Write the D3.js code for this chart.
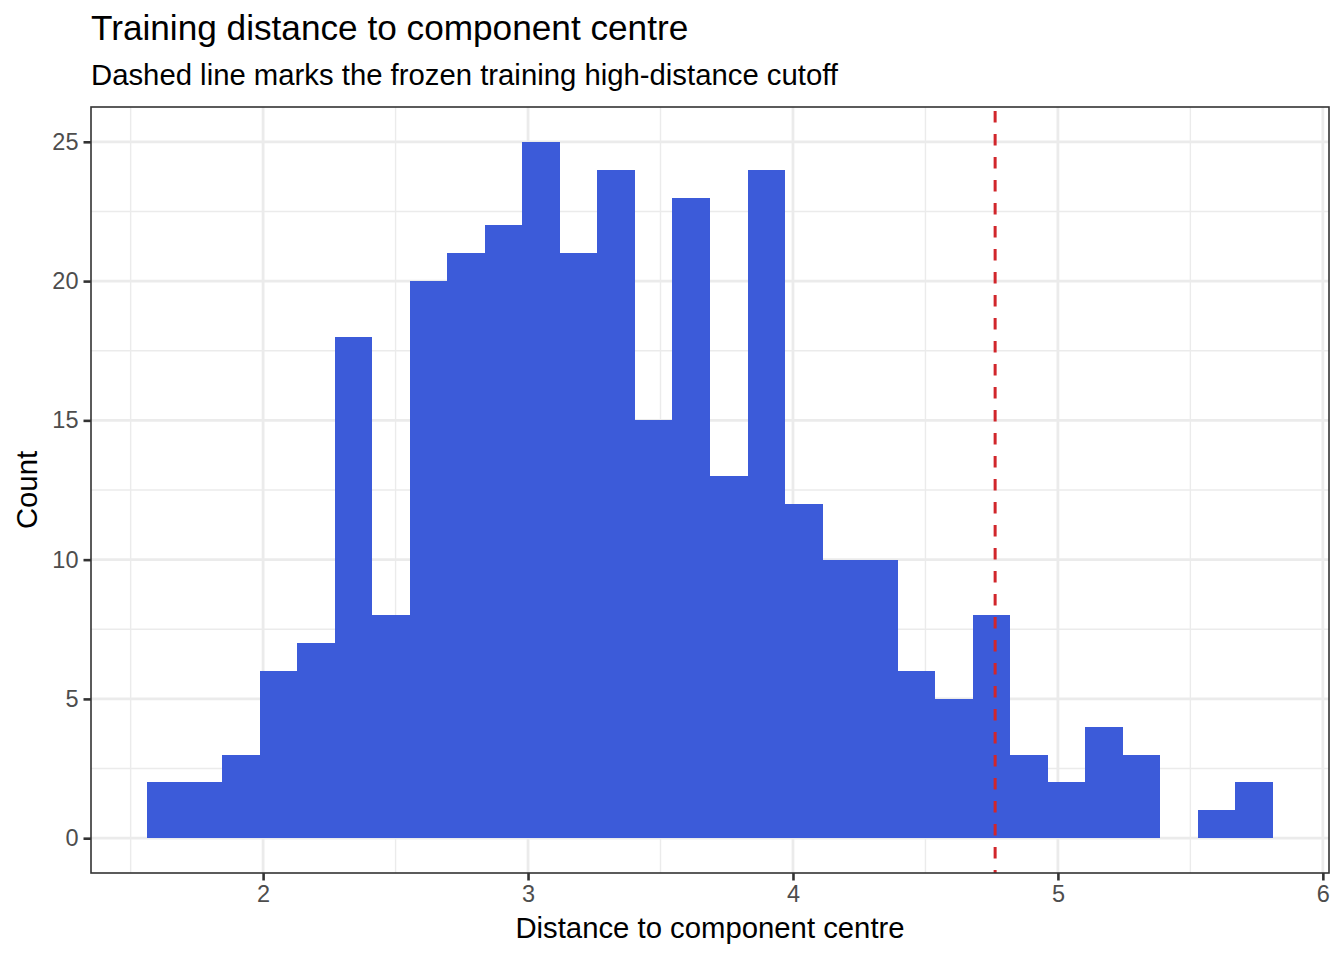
<!DOCTYPE html>
<html>
<head>
<meta charset="utf-8">
<script src="https://cdn.jsdelivr.net/npm/d3@7"></script>
<style>
  html, body { margin: 0; padding: 0; background: #fff; }
  svg text { font-family: "Liberation Sans", Arial, Helvetica, sans-serif; }
</style>
</head>
<body>
<div id="chart"></div>
<script>
// histogram bins (30 bins, as ggplot's default)
const binStart = 1.5628
const binWidth = 0.1416
const binCounts = [2, 2, 3, 6, 7, 18, 8, 20, 21, 22, 25, 21, 24, 15, 23,
                   13, 24, 12, 10, 10, 6, 5, 8, 3, 2, 4, 3, 0, 1, 2]
const cutoff = 4.763

const xTicks = [2, 3, 4, 5, 6]
const xMinor = [1.5, 2.5, 3.5, 4.5, 5.5]
const yTicks = [0, 5, 10, 15, 20, 25]
const yMinor = [2.5, 7.5, 12.5, 17.5, 22.5]

const TITLE = 'Training distance to component centre'
const SUBTITLE = 'Dashed line marks the frozen training high-distance cutoff'
const X_LABEL = 'Distance to component centre'
const Y_LABEL = 'Count'

const WIDTH = 1344, HEIGHT = 960
const MARGIN = { top: 107, right: 15, bottom: 87, left: 91 }
const W = WIDTH - MARGIN.left - MARGIN.right
const H = HEIGHT - MARGIN.top - MARGIN.bottom

const bins = binCounts.map((n, i) => ({
  x0: binStart + i * binWidth,
  x1: binStart + (i + 1) * binWidth,
  n
}))

// ggplot-style 5% expansion on both axes
const xLo = bins[0].x0, xHi = bins[bins.length - 1].x1
const xPad = (xHi - xLo) * 0.05
const yMax = d3.max(binCounts)
const yPad = yMax * 0.05

const x = d3.scaleLinear().domain([xLo - xPad, xHi + xPad]).range([0, W])
const y = d3.scaleLinear().domain([-yPad, yMax + yPad]).range([H, 0])

const svg = d3.select('#chart').append('svg')
  .attr('width', WIDTH).attr('height', HEIGHT)

svg.append('defs').append('clipPath').attr('id', 'panel-clip')
  .append('rect').attr('width', W).attr('height', H)

const g = svg.append('g').attr('transform', `translate(${MARGIN.left},${MARGIN.top})`)

// ── grid ─────────────────────────────────────────────
const grid = g.append('g').attr('class', 'grid')
grid.selectAll('.vminor').data(xMinor).join('line')
  .attr('x1', d => x(d)).attr('x2', d => x(d)).attr('y1', 0).attr('y2', H)
  .attr('stroke', '#ebebeb').attr('stroke-width', 1.4)
grid.selectAll('.hminor').data(yMinor).join('line')
  .attr('x1', 0).attr('x2', W).attr('y1', d => y(d)).attr('y2', d => y(d))
  .attr('stroke', '#ebebeb').attr('stroke-width', 1.4)
grid.append('g').selectAll('line').data(xTicks).join('line')
  .attr('x1', d => x(d)).attr('x2', d => x(d)).attr('y1', 0).attr('y2', H)
  .attr('stroke', '#ebebeb').attr('stroke-width', 2.8)
grid.append('g').selectAll('line').data(yTicks).join('line')
  .attr('x1', 0).attr('x2', W).attr('y1', d => y(d)).attr('y2', d => y(d))
  .attr('stroke', '#ebebeb').attr('stroke-width', 2.8)

// ── bars ─────────────────────────────────────────────
g.append('g').attr('class', 'bars')
  .selectAll('rect').data(bins.filter(b => b.n > 0)).join('rect')
  .attr('x', d => x(d.x0))
  .attr('width', d => x(d.x1) - x(d.x0))
  .attr('y', d => y(d.n))
  .attr('height', d => y(0) - y(d.n))
  .attr('fill', '#3c5bd9')
  .attr('shape-rendering', 'crispEdges')

// ── cutoff line ──────────────────────────────────────
g.append('line')
  .attr('clip-path', 'url(#panel-clip)')
  .attr('x1', x(cutoff)).attr('x2', x(cutoff))
  .attr('y1', 4).attr('y2', H)
  .attr('stroke', '#d1262b')
  .attr('stroke-width', 3)
  .attr('stroke-dasharray', '11.5 11.5')

// ── panel border ─────────────────────────────────────
g.append('rect')
  .attr('width', W).attr('height', H)
  .attr('fill', 'none').attr('stroke', '#333333').attr('stroke-width', 1.6)

// ── axes ─────────────────────────────────────────────
const xAxis = g.append('g').attr('transform', `translate(0,${H})`)
  .call(d3.axisBottom(x).tickValues(xTicks).tickSize(7.5).tickPadding(5).tickFormat(d3.format('d')))
const yAxis = g.append('g')
  .call(d3.axisLeft(y).tickValues(yTicks).tickSize(7.5).tickPadding(5).tickFormat(d3.format('d')))

;[xAxis, yAxis].forEach(a => {
  a.select('.domain').remove()
  a.selectAll('.tick line').attr('stroke', '#333333').attr('stroke-width', 2.6)
  a.selectAll('.tick text')
    .attr('fill', '#4d4d4d')
    .style('font-size', '23.5px')
    .style('font-family', '"Liberation Sans", Arial, sans-serif')
})

// ── titles ───────────────────────────────────────────
svg.append('text')
  .attr('x', MARGIN.left).attr('y', 40)
  .style('font-size', '35.2px').attr('fill', '#000')
  .text(TITLE)
svg.append('text')
  .attr('x', MARGIN.left).attr('y', 85)
  .style('font-size', '29.3px').attr('fill', '#000')
  .text(SUBTITLE)

svg.append('text')
  .attr('x', MARGIN.left + W / 2).attr('y', 938)
  .attr('text-anchor', 'middle')
  .style('font-size', '29.3px').attr('fill', '#000')
  .text(X_LABEL)

svg.append('text')
  .attr('transform', `translate(37,${MARGIN.top + H / 2}) rotate(-90)`)
  .attr('text-anchor', 'middle')
  .style('font-size', '29.3px').attr('fill', '#000')
  .text(Y_LABEL)
</script>
</body>
</html>
